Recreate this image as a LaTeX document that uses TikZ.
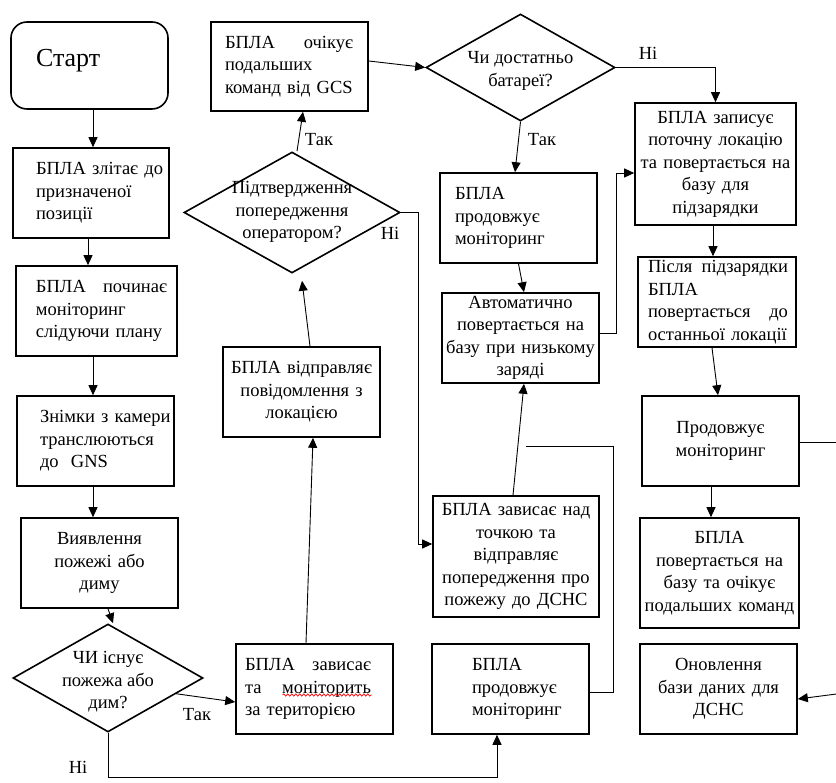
\documentclass[tikz,border=0pt]{standalone}
\usepackage{fontspec}
\setmainfont{Liberation Serif}
\usetikzlibrary{arrows.meta,shapes.geometric,decorations.pathmorphing}
\newcommand\bodyfont{\fontsize{18.5pt}{22.5pt}\selectfont}
\newcommand\startfont{\fontsize{26pt}{30pt}\selectfont}
\newcommand\spread[3]{\makebox[#1][l]{#2\hfill #3}}
\begin{document}
\begin{tikzpicture}[x=1pt,y=-1pt,
  box/.style={draw, line width=1.6pt, rectangle, inner sep=0pt, font=\bodyfont},
  lbox/.style={box, align=left},
  cbox/.style={box, align=center},
  dia/.style={draw, diamond, line width=1.6pt, inner sep=0pt, minimum width=10pt},
  dtext/.style={font=\bodyfont, align=center, inner sep=0pt},
  lbl/.style={font=\bodyfont, inner sep=0pt},
  conn/.style={line width=0.9pt, -{Triangle[length=10pt,width=9pt]}},
  plain/.style={line width=0.9pt},
  wave/.style={red, line width=0.7pt, decorate, decoration={snake, amplitude=1.1pt, segment length=4pt}}]
\useasboundingbox (0,0) rectangle (836,783);
\clip (0,0) rectangle (836,783);
\fill[white] (0,0) rectangle (836,783);

% left column
\node[box, rounded corners=16pt, text width=157pt, minimum height=87pt, align=left, font=\startfont] (start) at (89.5,65.5)
  {\hspace*{25pt}\raisebox{5pt}[\height][\depth]{Старт}};
\node[lbox, text width=156pt, minimum height=90pt] (b1) at (91,193)
  {\hspace*{23pt}БПЛА злітає до\\\hspace*{23pt}призначеної\\\hspace*{23pt}позиції};
\node[lbox, text width=161pt, minimum height=90pt] (b2) at (96.5,311)
  {\hspace*{20pt}\spread{131pt}{БПЛА}{починає}\\\hspace*{20pt}моніторинг\\\hspace*{20pt}слідуючи плану};
\node[lbox, text width=157pt, minimum height=90pt] (b3) at (95.5,441)
  {\hspace*{23pt}Знімки з камери\\\hspace*{23pt}транслюються\\\hspace*{23pt}до\ \ GNS};
\node[cbox, text width=157pt, minimum height=90pt] (b4) at (99.5,563)
  {Виявлення\\пожежі або\\диму};
\node[dia, minimum width=190pt, minimum height=108pt] (d1) at (108,678) {};
\node[dtext] (d1t) at (108,682) {ЧИ існує\\пожежа або\\дим?};

% second column
\node[lbox, text width=157pt, minimum height=90pt] (b5) at (314.5,689)
  {\hspace*{9pt}\spread{126pt}{БПЛА}{зависає}\\\hspace*{9pt}\spread{126pt}{та}{моніторить}\\\hspace*{9pt}за територією};
\node[cbox, text width=157pt, minimum height=90pt] (b6) at (301.5,392)
  {БПЛА відправляє\\повідомлення з\\локацією};
\node[dia, minimum width=216pt, minimum height=121pt] (d2) at (292,212.5) {};
\node[dtext] (d2t) at (292,212) {Підтвердження\\попередження\\оператором?};
\node[lbox, text width=157pt, minimum height=89pt] (b7) at (289.5,66.5)
  {\hspace*{14pt}\spread{128pt}{БПЛА}{очікує}\\\hspace*{14pt}подальших\\\hspace*{14pt}команд від GCS};

% third column
\node[dia, minimum width=189pt, minimum height=107pt] (d3) at (520.5,67.5) {};
\node[dtext] (d3t) at (520.5,71) {Чи достатньо\\батареї?};
\node[lbox, text width=157pt, minimum height=90pt] (b8) at (518.5,218)
  {\hspace*{15pt}БПЛА\\\hspace*{15pt}продовжує\\\hspace*{15pt}моніторинг};
\node[cbox, text width=157pt, minimum height=90pt] (b9) at (520.5,338)
  {Автоматично\\повертається на\\базу при низькому\\заряді};
\node[cbox, text width=166pt, minimum height=121pt] (b15) at (516,556.5)
  {БПЛА зависає над\\точкою та\\відправляє\\попередження про\\пожежу до ДСНС};
\node[lbox, text width=157pt, minimum height=90pt] (b16) at (510.5,689)
  {\hspace*{40pt}БПЛА\\\hspace*{40pt}продовжує\\\hspace*{40pt}моніторинг};

% fourth column
\node[cbox, text width=161pt, minimum height=122pt] (b10) at (715.5,164)
  {БПЛА записує\\поточну локацію\\та повертається на\\базу для\\підзарядки};
\node[lbox, text width=158pt, minimum height=90pt] (b11) at (717,302)
  {\hspace*{10pt}\spread{140pt}{Після}{підзарядки}\\\hspace*{10pt}БПЛА\\\hspace*{10pt}\spread{140pt}{повертається}{до}\\\hspace*{10pt}останньої локації};
\node[cbox, text width=157pt, minimum height=90pt] (b12) at (720.5,441)
  {Продовжує\\моніторинг};
\node[cbox, text width=159pt, minimum height=110pt] (b13) at (719.5,573)
  {БПЛА\\повертається на\\базу та очікує\\подальших команд};
\node[cbox, text width=157pt, minimum height=90pt] (b14) at (718.5,689)
  {Оновлення\\бази даних для\\ДСНС};

% spelling underline
\draw[wave] ([xshift=-32pt,yshift=-6pt]b5.center) -- ([xshift=57pt,yshift=-6pt]b5.center);

% labels
\node[lbl] (t1) at (319,140) {Так};
\node[lbl] (n1) at (390,233) {Ні};
\node[lbl] (t2) at (542,140) {Так};
\node[lbl] (n2) at (648,53) {Ні};
\node[lbl] (t3) at (197,715) {Так};
\node[lbl] (n3) at (78,767) {Ні};

% coordinates
\coordinate (jn) at (526,446);
\coordinate (offA) at (852,442.5);
\coordinate (offB) at (852,692);

% connectors
\draw[conn] ([xshift=3.5pt]start.south) -- ([xshift=2pt]b1.north);
\draw[conn] ([xshift=-3pt]b1.south) -- ([xshift=-8.5pt]b2.north);
\draw[conn] ([xshift=-3.5pt]b2.south) -- ([xshift=-2.5pt]b3.north);
\draw[conn] ([xshift=-2.5pt]b3.south) -- ([xshift=-6.5pt]b4.north);
\draw[conn] ([xshift=8.5pt]b4.south) -- ([xshift=5pt]d1.north);
\draw[conn] (d1.-13) -- ([yshift=-13pt]b5.west);
\draw[conn] (d1.south) -- ++(0,45) -| ([xshift=-13.5pt]b16.south);
\draw[conn] ([xshift=-8.5pt]b5.north) -- ([xshift=11.5pt]b6.south);
\draw[conn] ([xshift=8.5pt]b6.north) -- ([xshift=10pt,yshift=-7pt]d2.south);
\draw[conn] ([xshift=5pt]d2.north) -- ([xshift=13.5pt]b7.south);
\draw[conn] (d2.east) -- ++(18,0) |- ([yshift=12.5pt]b15.west);
\draw[conn] ([yshift=5.5pt]b7.east) -- (d3.west);
\draw[conn] (d3.south) -- ([xshift=-3.5pt]b8.north);
\draw[conn] (d3.east) -| (b10.north);
\draw[conn] (b8.south) -- ([xshift=3.5pt]b9.north);
\draw[conn] ([yshift=5pt]b9.east) -- ++(17,0) |- ([yshift=-9pt]b10.west);
\draw[conn] ([xshift=-2.5pt]b10.south) -- ([xshift=-4pt]b11.north);
\draw[conn] ([xshift=-5pt]b11.south) -- ([xshift=-2.5pt]b12.north);
\draw[conn] ([xshift=-9.5pt]b12.south) -- ([xshift=-8.5pt]b13.north);
\draw[conn] ([yshift=-1.5pt]b12.east) -- (offA) -- (offB) -- ([yshift=-10pt]b14.east);
\draw[conn] ([xshift=-3pt]b15.north) -- ([xshift=3.5pt]b9.south);
\draw[plain] ([yshift=-3pt]b16.east) -- ++(24,0) |- (jn);
\end{tikzpicture}
\end{document}
